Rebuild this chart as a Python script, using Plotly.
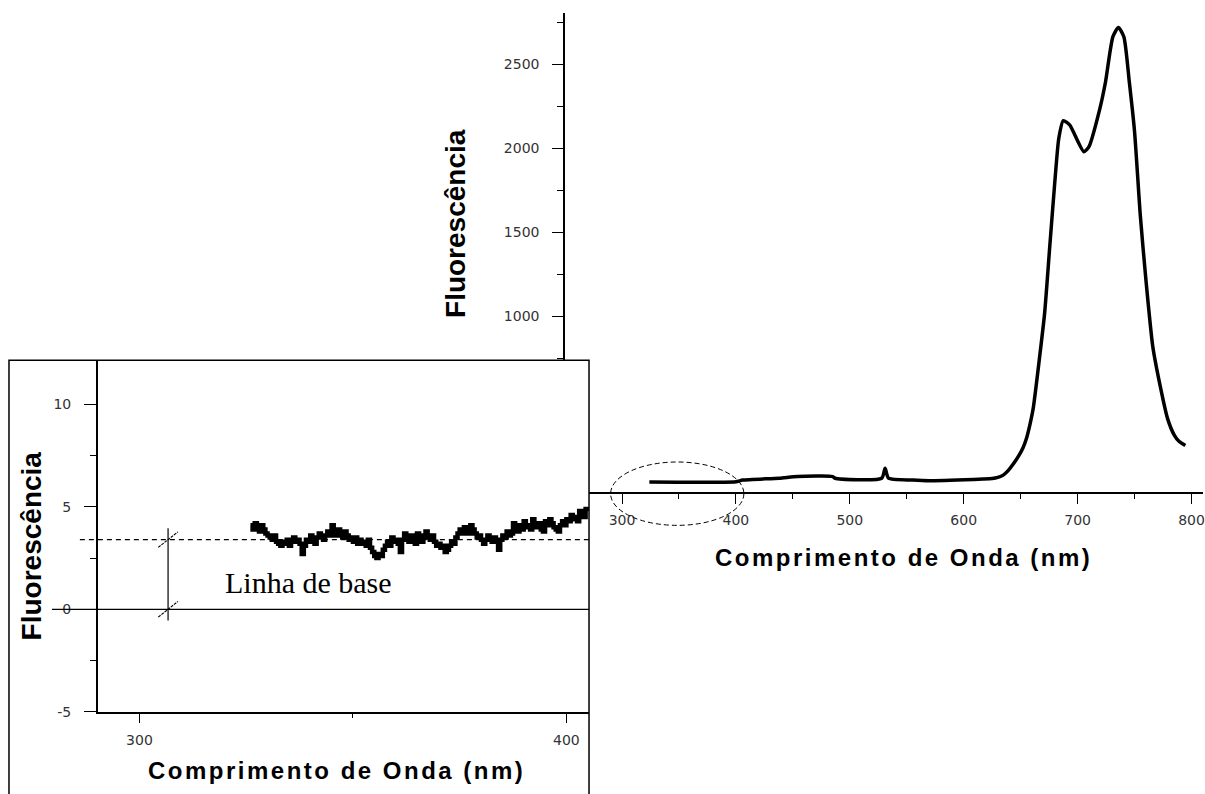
import plotly.graph_objects as go

W, H = 1205, 794

# ---------------- data ----------------
# main spectrum (wavelength nm, fluorescence)
main_nm = [324, 400, 406, 438, 454, 485, 487, 528, 531, 534, 555, 570, 617, 625, 630,
           635, 639, 643, 648, 652, 655, 658, 661, 663.5, 666, 671, 675.5, 680, 683.5,
           687.5, 693, 705.5, 710, 719.5, 724.5, 731, 735.8, 740.6, 745.4, 750, 755,
           760, 766, 772.5, 779, 785, 789, 794.6]
main_fl = [12, 14, 24, 35, 45, 45, 35, 35, 94, 35, 24, 20, 30, 33, 40,
           55, 80, 115, 165, 215, 270, 350, 450, 580, 720, 1015, 1410, 1800, 2060,
           2165, 2140, 1980, 2010, 2235, 2395, 2665, 2720, 2665, 2395, 2100, 1605,
           1215, 820, 585, 390, 290, 255, 230]

# inset: zoom on the 326-405 nm region, one reading every 0.5 nm
inset_start_nm = 326.0
inset_step_nm = 0.5
inset_fl = [4.1, 3.9, 4.2, 4.0, 3.8, 4.1, 3.9, 3.7,
            3.6, 3.5, 3.4, 3.6, 3.3, 3.2, 3.1, 3.3,
            3.2, 3.4, 3.1, 3.3, 3.5, 3.3, 3.4, 3.2,
            2.7, 3.1, 3.4, 3.3, 3.6, 3.4, 3.2, 3.5,
            3.7, 3.5, 3.4, 3.6, 3.8, 3.6, 4.1, 3.8,
            3.6, 3.9, 3.7, 3.5, 3.8, 3.6, 3.4, 3.5,
            3.3, 3.5, 3.2, 3.4, 3.2, 3.3, 3.1, 3.4,
            3.0, 2.8, 2.6, 2.5, 2.7, 2.6, 2.9, 3.1,
            3.3, 3.1, 3.5, 3.3, 3.4, 3.2, 2.8, 3.4,
            3.7, 3.5, 3.3, 3.6, 3.4, 3.2, 3.7, 3.5,
            3.3, 3.6, 3.8, 3.5, 3.4, 3.6, 3.3, 3.1,
            3.2, 3.0, 3.1, 2.8, 2.9, 3.1, 3.3, 3.2,
            3.5, 3.7, 3.9, 3.7, 4.0, 3.8, 3.7, 4.1,
            3.9, 3.7, 3.5, 3.6, 3.4, 3.2, 3.4, 3.6,
            3.5, 3.3, 3.5, 3.3, 2.9, 3.4, 3.6, 3.5,
            3.8, 3.6, 3.7, 4.2, 4.0, 3.8, 4.1, 3.9,
            4.3, 4.0, 4.1, 3.9, 4.4, 4.2, 4.0, 4.2,
            3.9, 3.8, 4.3, 4.1, 4.4, 4.2, 4.0, 3.9,
            3.8, 4.1, 4.3, 4.1, 4.4, 4.3, 4.6, 4.4,
            4.5, 4.3, 4.8, 4.6, 4.5, 4.9, 5.0]
inset_nm = [inset_start_nm + inset_step_nm * i for i in range(len(inset_fl))]

main_x_ticks = [300, 400, 500, 600, 700, 800]
main_y_ticks = [1000, 1500, 2000, 2500]
inset_x_ticks = [300, 400]
inset_y_ticks = [-5, 0, 5, 10]

baseline_level = 3.4
dimension_nm = 306.7
label_text = "Linha de base"
x_title = "Comprimento de Onda (nm)"
y_title = "Fluorescência"

# ---------------- figure ----------------
fig = go.Figure()
fig.add_trace(go.Scatter(x=main_nm, y=main_fl, mode="lines",
                         line=dict(color="black", width=3.5, shape="spline", smoothing=0.6),
                         xaxis="x", yaxis="y", showlegend=False, hoverinfo="skip"))
fig.add_trace(go.Scatter(x=inset_nm, y=inset_fl, mode="lines",
                         line=dict(color="black", width=4.5, shape="hv"),
                         xaxis="x2", yaxis="y2", showlegend=False, hoverinfo="skip"))

tickfont = dict(family="DejaVu Sans", size=14, color="#333")
common = dict(showline=True, linecolor="black", linewidth=1.5, ticks="outside",
              tickcolor="black", tickwidth=1.3, showgrid=False, zeroline=False,
              tickfont=tickfont, mirror=False, ticklabeloverflow="allow")

fig.update_layout(
    width=W, height=H,
    margin=dict(l=0, r=0, t=0, b=0),
    paper_bgcolor="white", plot_bgcolor="white",
    xaxis=dict(domain=[566 / W, 1.0], range=[250, 810.1], anchor="y",
               tickmode="array", tickvals=main_x_ticks,
               ticktext=[str(v) for v in main_x_ticks], ticklen=10,
               minor=dict(tickmode="linear", tick0=0, dtick=50, ticklen=5,
                          ticks="outside", tickcolor="black", tickwidth=1.3),
               ticklabelstandoff=4, **common),
    yaxis=dict(domain=[(H - 497) / H, (H - 13) / H], range=[-47, 2807], anchor="x",
               tickmode="array", tickvals=main_y_ticks,
               ticktext=[str(v) for v in main_y_ticks], ticklen=11,
               minor=dict(tickmode="linear", tick0=0, dtick=250, ticklen=6,
                          ticks="outside", tickcolor="black", tickwidth=1.3),
               ticklabelstandoff=10, **common),
    xaxis2=dict(domain=[98 / W, 590 / W], range=[290.25, 405.3], anchor="y2",
                tickmode="array", tickvals=inset_x_ticks,
                ticktext=[str(v) for v in inset_x_ticks], ticklen=9,
                minor=dict(tickmode="linear", tick0=0, dtick=50, ticklen=4,
                           ticks="outside", tickcolor="black", tickwidth=1.3),
                ticklabelstandoff=6, **common),
    yaxis2=dict(domain=[(H - 719) / H, (H - 364) / H], range=[-5.0, 12.15], anchor="x2",
                tickmode="array", tickvals=inset_y_ticks,
                ticktext=[str(v) for v in inset_y_ticks], ticklen=12,
                minor=dict(tickmode="linear", tick0=0, dtick=2.5, ticklen=6,
                           ticks="outside", tickcolor="black", tickwidth=1.3),
                ticklabelstandoff=10, **common),
)

shapes = []
# inset frame
shapes.append(dict(type="rect", xref="paper", yref="paper",
                   x0=9 / W, x1=590 / W, y0=-0.02, y1=(H - 364) / H,
                   line=dict(color="black", width=1.5), fillcolor="rgba(0,0,0,0)"))
# inset zero line (extends through the "0" label)
shapes.append(dict(type="line", xref="paper", yref="y2", x0=52 / W, x1=590 / W,
                   y0=0, y1=0, line=dict(color="black", width=1.3)))
# dashed baseline
shapes.append(dict(type="line", xref="paper", yref="y2", x0=80 / W, x1=590 / W,
                   y0=baseline_level, y1=baseline_level,
                   line=dict(color="black", width=1.3, dash="5px,4px")))
# dimension line
shapes.append(dict(type="line", xref="x2", yref="y2", x0=dimension_nm, x1=dimension_nm,
                   y0=-0.55, y1=baseline_level + 0.55,
                   line=dict(color="black", width=1.2)))
for lvl in (0, baseline_level):
    shapes.append(dict(type="line", xref="x2", yref="y2",
                       x0=dimension_nm - 2.3, x1=dimension_nm + 2.3,
                       y0=lvl - 0.38, y1=lvl + 0.38,
                       line=dict(color="black", width=1.1, dash="3px,1px")))
# ellipse marking the zoomed region on the main plot
shapes.append(dict(type="circle", xref="x", yref="paper", x0=290, x1=407,
                   y0=(H - 530.7) / H, y1=(H - 466.7) / H,
                   line=dict(color="black", width=1, dash="5px,3px")))
fig.update_layout(shapes=shapes)

title_font_x = dict(family="Liberation Sans", size=24, color="black", weight="bold")
title_font_y = dict(family="Liberation Sans", size=28, color="black", weight="bold")
spaced = '<span style="letter-spacing:2.5px">' + x_title + '</span>'
annotations = [
    dict(text=spaced, xref="paper", yref="paper", x=905 / W, y=(H - 563) / H,
         showarrow=False, font=title_font_x, xanchor="center", yanchor="middle"),
    dict(text=spaced, xref="paper", yref="paper", x=337 / W, y=(H - 778) / H,
         showarrow=False, font=title_font_x, xanchor="center", yanchor="middle"),
    dict(text=y_title, xref="paper", yref="paper", x=456 / W, y=(H - 226) / H,
         showarrow=False, font=title_font_y, textangle=-90,
         xanchor="center", yanchor="middle"),
    dict(text=y_title, xref="paper", yref="paper", x=31 / W, y=(H - 551) / H,
         showarrow=False, font=title_font_y, textangle=-90,
         xanchor="center", yanchor="middle"),
    dict(text=label_text, xref="x2", yref="y2", x=339.7, y=1.3,
         showarrow=False, font=dict(family="Liberation Serif", size=30, color="black"),
         xanchor="center", yanchor="middle"),
]
fig.update_layout(annotations=annotations)

fig.write_html("out.html", config={"displayModeBar": False},
               post_script="document.body.style.margin='0';document.body.style.overflow='hidden';")
